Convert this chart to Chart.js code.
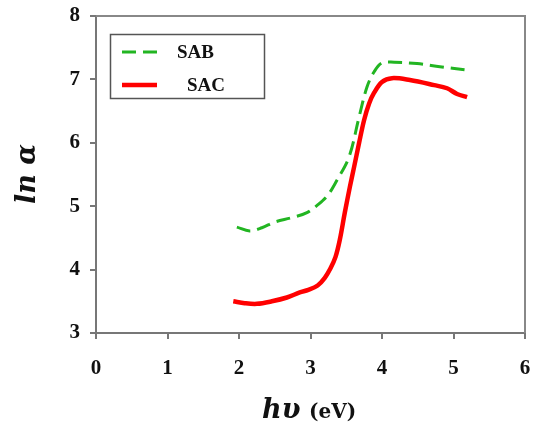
<!DOCTYPE html>
<html lang="en">
<head>
  <meta charset="UTF-8" />
  <title>ln α vs hν</title>
  <script src="https://cdn.jsdelivr.net/npm/chart.js"></script>
  <style>
    body { margin: 0; background: #fff; }
    .wrap { width: 534px; height: 427px; }
  </style>
</head>
<body>
  <div class="wrap"><canvas id="absChart" width="534" height="427"></canvas></div>

  <script>
    // photon energy (eV) and ln(alpha)
    const sabX = [1.97, 2.15, 2.32, 2.50, 2.74, 2.95, 3.10, 3.24, 3.37, 3.54, 3.68, 3.79, 3.89, 4.00, 4.17, 4.49, 4.81, 5.16];
    const sabY = [4.67, 4.61, 4.66, 4.75, 4.82, 4.90, 5.02, 5.17, 5.41, 5.78, 6.41, 6.88, 7.12, 7.26, 7.27, 7.25, 7.20, 7.15];

    const sacX = [1.92, 2.08, 2.25, 2.46, 2.67, 2.85, 2.97, 3.10, 3.20, 3.28, 3.35, 3.41, 3.48, 3.55, 3.61, 3.68, 3.75, 3.82, 3.89, 4.00, 4.14, 4.39, 4.73, 4.91, 5.05, 5.19];
    const sacY = [3.50, 3.47, 3.46, 3.50, 3.56, 3.64, 3.68, 3.75, 3.87, 4.02, 4.20, 4.47, 4.90, 5.30, 5.62, 6.00, 6.36, 6.62, 6.79, 6.96, 7.02, 6.99, 6.91, 6.86, 6.77, 6.72];

    const xTicks = [0, 1, 2, 3, 4, 5, 6];
    const yTicks = [3, 4, 5, 6, 7, 8];
    const seriesNames = ["SAB", "SAC"];

    const toPoints = (xs, ys) => xs.map((x, i) => ({ x: x, y: ys[i] }));

    // box round the plot, legend and axis titles drawn by hand
    const extras = {
      id: "extras",
      afterDraw(chart) {
        const ctx = chart.ctx;
        const a = chart.chartArea;
        ctx.save();
        ctx.strokeStyle = "#888";
        ctx.lineWidth = 2;
        ctx.beginPath();
        ctx.moveTo(a.left, a.top);
        ctx.lineTo(a.right, a.top);
        ctx.lineTo(a.right, a.bottom);
        ctx.stroke();

        // legend
        ctx.strokeStyle = "#555";
        ctx.lineWidth = 1.5;
        ctx.strokeRect(110.5, 34.5, 154, 64);
        const rows = [52, 85];
        const textX = [177, 187];
        chart.data.datasets.forEach((ds, i) => {
          ctx.strokeStyle = ds.borderColor;
          ctx.lineWidth = ds.borderWidth;
          ctx.setLineDash(ds.borderDash || []);
          ctx.beginPath();
          ctx.moveTo(122, rows[i]);
          ctx.lineTo(157, rows[i]);
          ctx.stroke();
          ctx.setLineDash([]);
          ctx.fillStyle = "#111";
          ctx.font = "bold 19px 'Liberation Serif'";
          ctx.textBaseline = "middle";
          ctx.fillText(ds.label, textX[i], rows[i] + 1);
        });

        // y title
        ctx.fillStyle = "#111";
        ctx.save();
        ctx.translate(35, 174);
        ctx.rotate(-Math.PI / 2);
        ctx.font = "italic bold 27px 'DejaVu Serif'";
        ctx.textAlign = "center";
        ctx.textBaseline = "alphabetic";
        ctx.fillText("ln α", 0, 0);
        ctx.restore();

        // x title
        ctx.textBaseline = "alphabetic";
        ctx.textAlign = "left";
        ctx.font = "italic bold 27px 'DejaVu Serif'";
        ctx.fillText("hυ", 262, 418);
        ctx.font = "bold 20px 'DejaVu Serif'";
        ctx.fillText("(eV)", 309, 418);
        ctx.restore();
      }
    };

    new Chart(document.getElementById("absChart"), {
      type: "scatter",
      data: {
        datasets: [
          {
            label: seriesNames[0],
            data: toPoints(sabX, sabY),
            showLine: true,
            borderColor: "#22b522",
            borderWidth: 3,
            borderDash: [14, 7],
            pointRadius: 0,
            tension: 0.35
          },
          {
            label: seriesNames[1],
            data: toPoints(sacX, sacY),
            showLine: true,
            borderColor: "#ff0000",
            borderWidth: 4.5,
            pointRadius: 0,
            tension: 0.35
          }
        ]
      },
      options: {
        responsive: false,
        animation: false,
        layout: { padding: { top: 16, right: 9, left: 0, bottom: 0 } },
        plugins: {
          legend: { display: false },
          tooltip: { enabled: false }
        },
        scales: {
          x: {
            type: "linear",
            min: 0,
            max: 6,
            afterBuildTicks: s => { s.ticks = xTicks.map(v => ({ value: v })); },
            afterFit: s => { s.height = 94; s.paddingLeft = 0; s.paddingRight = 0; },
            grid: { drawOnChartArea: false, tickLength: 6, color: "#777", lineWidth: 2 },
            border: { color: "#777", width: 2 },
            ticks: {
              padding: 17,
              color: "#111",
              font: { family: "Liberation Serif", weight: "bold", size: 21 }
            }
          },
          y: {
            type: "linear",
            min: 3,
            max: 8,
            afterBuildTicks: s => { s.ticks = yTicks.map(v => ({ value: v })); },
            afterFit: s => { s.width = 96; s.paddingTop = 0; s.paddingBottom = 0; },
            grid: { drawOnChartArea: false, tickLength: 6, color: "#777", lineWidth: 2 },
            border: { color: "#777", width: 2 },
            ticks: {
              padding: 10,
              color: "#111",
              font: { family: "Liberation Serif", weight: "bold", size: 21 }
            }
          }
        }
      },
      plugins: [extras]
    });
  </script>
</body>
</html>
